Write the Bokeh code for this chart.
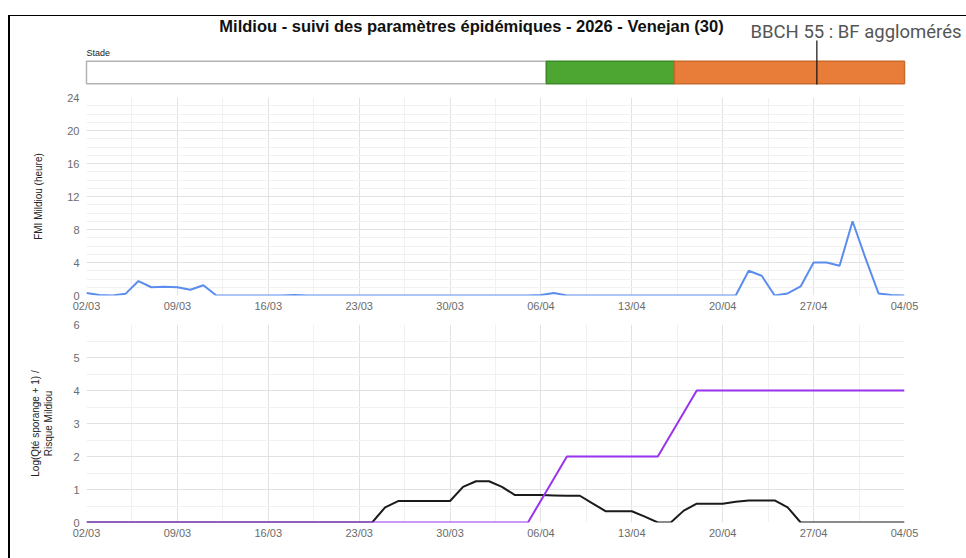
import pandas as pd
from bokeh.plotting import figure
from bokeh.layouts import column
from bokeh.models import (FixedTicker, DatetimeTickFormatter, Label, Arrow,
                          Range1d, ColumnDataSource)
from bokeh.embed import file_html
from bokeh.resources import INLINE

# ---------------- data ----------------
start_date = "2026-03-02"
end_date = "2026-05-04"
dates = pd.date_range(start_date, end_date, freq="D")

fmi_mildiou = [0.3, 0.05, 0, 0.2, 1.75, 1.0, 1.05, 1.0, 0.7, 1.25,
               0, 0, 0, 0, 0, 0, 0.05, 0, 0, 0,
               0, 0, 0, 0, 0, 0, 0, 0, 0, 0,
               0, 0, 0, 0, 0, 0.05, 0.3, 0, 0, 0,
               0, 0, 0, 0, 0, 0, 0, 0, 0, 0,
               0, 3.0, 2.4, 0, 0.25, 1.1, 4.0, 4.0, 3.6, 9.0,
               4.5, 0.25, 0.05, 0]

log_sporange = [0, 0, 0, 0, 0, 0, 0, 0, 0, 0,
                0, 0, 0, 0, 0, 0, 0, 0, 0, 0,
                0, 0, 0, 0.46, 0.65, 0.65, 0.65, 0.65, 0.65, 1.08,
                1.25, 1.25, 1.08, 0.83, 0.83, 0.83, 0.82, 0.81, 0.81, 0.57,
                0.34, 0.34, 0.34, 0.18, 0, 0, 0.36, 0.57, 0.57, 0.57,
                0.63, 0.67, 0.67, 0.67, 0.46, 0, 0, 0, 0, 0,
                0, 0, 0, 0]

risque_mildiou = [0] * 35 + [0.67, 1.33] + [2] * 8 + [2.67, 3.33] + [4] * 17

tick_dates = ["2026-03-02", "2026-03-09", "2026-03-16", "2026-03-23", "2026-03-30",
              "2026-04-06", "2026-04-13", "2026-04-20", "2026-04-27", "2026-05-04"]

stage_starts = ["2026-03-02 00:00", "2026-04-06 10:00", "2026-04-16 07:00"]
stage_ends = ["2026-04-06 10:00", "2026-04-16 07:00", "2026-05-04 00:00"]
stage_colors = ["#ffffff", "#4da631", "#e87d3a"]
stage_lines = ["#b3b3b3", "#3c8a27", "#c96a2c"]

bbch_date = "2026-04-27 06:00"
bbch_text = "BBCH 55 : BF agglomérés"
title_text = "Mildiou - suivi des paramètres épidémiques - 2026 - Venejan (30)"

fmi_ticks = [0, 4, 8, 12, 16, 20, 24]
risk_ticks = [0, 1, 2, 3, 4, 5, 6]

# ---------------- helpers ----------------
def ms(d):
    return (pd.Timestamp(d) - pd.Timestamp("1970-01-01")) / pd.Timedelta(milliseconds=1)

W = 956
LEFT = 76
FRAME_W = 818
RIGHT = W - LEFT - FRAME_W
FONT = "Liberation Sans"

x_start_ms, x_end_ms = ms(start_date), ms(end_date)
x_range = Range1d(x_start_ms, x_end_ms)
major_x = [ms(d) for d in tick_dates]
minor_x = [(a + b) / 2 for a, b in zip(major_x[:-1], major_x[1:])]

def base_fig(height, top, bottom, y_range, xr=x_range, left=LEFT, right=RIGHT):
    p = figure(width=W, height=height, x_axis_type="datetime", x_range=xr,
               y_range=y_range, output_backend="svg", toolbar_location=None, tools="")
    p.min_border_left = left
    p.min_border_right = right
    p.min_border_top = top
    p.min_border_bottom = bottom
    p.outline_line_color = None
    p.background_fill_color = "white"
    p.border_fill_color = "white"
    return p

def style_chart(p, yt, ylabel, label_standoff):
    p.xaxis.ticker = FixedTicker(ticks=major_x, minor_ticks=minor_x)
    p.xaxis.formatter = DatetimeTickFormatter(days="%d/%m", months="%d/%m",
                                              hours="%d/%m", years="%d/%m")
    step = yt[1] - yt[0]
    nminor = 4 if step == 4 else 2
    minor_y = [yt[0] + i * step / nminor for i in range((len(yt) - 1) * nminor + 1)]
    p.yaxis.ticker = FixedTicker(ticks=yt, minor_ticks=minor_y)
    for ax in (p.xaxis, p.yaxis):
        ax.axis_line_color = None
        ax.major_tick_line_color = None
        ax.minor_tick_line_color = None
        ax.major_tick_out = 0
        ax.major_tick_in = 0
        ax.minor_tick_out = 0
        ax.minor_tick_in = 0
        ax.major_label_text_font = FONT
        ax.major_label_text_font_size = "11px"
        ax.major_label_text_color = "#6b6b6b"
    p.xaxis.major_label_standoff = 4
    p.yaxis.major_label_standoff = 7
    p.yaxis.axis_label = ylabel
    p.yaxis.axis_label_text_font = FONT
    p.yaxis.axis_label_text_font_size = "10px"
    p.yaxis.axis_label_text_font_style = "normal"
    p.yaxis.axis_label_text_color = "#222222"
    p.yaxis.axis_label_standoff = label_standoff
    for g in (p.xgrid, p.ygrid):
        g.grid_line_color = "#e2e2e2"
        g.minor_grid_line_color = "#f1f1f1"
        g.grid_line_width = 1

# ---------------- header (title + stage bar) ----------------
# header frame spans the whole header canvas; its x range is widened so that
# dates line up with the charts below (same pixels per day)
HDR_H = 74
BAR_TOP_PX, BAR_BOT_PX = 44, 68          # bar position inside the header canvas
per_px = (x_end_ms - x_start_ms) / FRAME_W
hdr_xr = Range1d(x_start_ms - LEFT * per_px, x_end_ms + RIGHT * per_px)
bar_px = BAR_BOT_PX - BAR_TOP_PX
hdr_yr = Range1d(-(HDR_H - BAR_BOT_PX) / bar_px, 1 + BAR_TOP_PX / bar_px)
hdr = base_fig(HDR_H, 0, 0, hdr_yr, xr=hdr_xr, left=0, right=0)
hdr.frame_align = False
hdr.axis.visible = False
hdr.grid.visible = False
src_st = ColumnDataSource(dict(left=[ms(s) for s in stage_starts],
                               right=[ms(s) for s in stage_ends],
                               color=stage_colors, lc=stage_lines))
hdr.quad(left="left", right="right", bottom=0.03, top=0.97, source=src_st,
         fill_color="color", line_color="lc", line_width=1.5)
hdr.add_layout(Arrow(end=None, x_start=ms(bbch_date), x_end=ms(bbch_date),
                     y_start=0.0, y_end=1.83, line_color="#111111", line_width=1.2))
hdr.add_layout(Label(x=461, y=65, x_units="screen", y_units="screen", text=title_text,
                     text_font=FONT, text_font_size="16.5px", text_font_style="bold",
                     text_align="center", text_baseline="middle", text_color="#111111"))
hdr.add_layout(Label(x=740, y=59, x_units="screen", y_units="screen", text=bbch_text,
                     text_font="Roboto", text_font_size="18.5px",
                     text_align="left", text_baseline="middle", text_color="#555555"))
hdr.add_layout(Label(x=76, y=38, x_units="screen", y_units="screen", text="Stade",
                     text_font=FONT, text_font_size="9px",
                     text_align="left", text_baseline="middle", text_color="#222222"))

# ---------------- top chart (FMI) ----------------
p1 = base_fig(226, 7, 21, Range1d(0, 24))
style_chart(p1, fmi_ticks, "FMI Mildiou (heure)", 20)
p1.line(dates, fmi_mildiou, line_color="#5b8def", line_width=2)

# ---------------- bottom chart ----------------
p2 = base_fig(242, 8, 36, Range1d(0, 6))
style_chart(p2, risk_ticks, "Log(Qté sporange + 1) /\nRisque Mildiou", 16)
p2.line(dates, log_sporange, line_color="#1a1a1a", line_width=2)
p2.line(dates, risque_mildiou, line_color="#9a33ee", line_width=2)

layout = column(hdr, p1, p2, margin=(15, 0, 0, 8),
                styles={"border-left": "2px solid #000000", "border-top": "1px solid #000000"})

open("out.html", "w").write(file_html(layout, INLINE))
